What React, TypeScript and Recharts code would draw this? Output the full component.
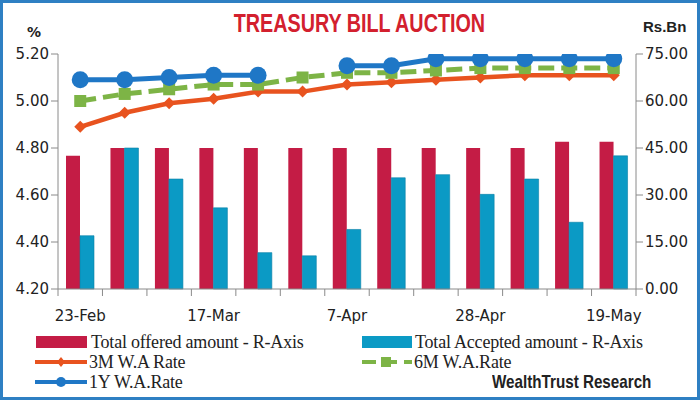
import { ComposedChart, Bar, Line, XAxis, YAxis } from 'recharts';

// auction dates (weekly)
const CATS = ['23-Feb', '2-Mar', '9-Mar', '17-Mar', '24-Mar', '31-Mar', '7-Apr', '14-Apr', '21-Apr', '28-Apr', '5-May', '12-May', '19-May'];
const OFFERED = [42.5, 45, 45, 45, 45, 45, 45, 45, 45, 45, 45, 47, 47];
const ACCEPTED = [17.0, 45.0, 35.1, 25.9, 11.6, 10.6, 19.0, 35.5, 36.5, 30.2, 35.1, 21.3, 42.5];
const RATE_3M = [4.89, 4.95, 4.99, 5.01, 5.04, 5.04, 5.07, 5.08, 5.09, 5.10, 5.11, 5.11, 5.11];
const RATE_6M = [5.0, 5.03, 5.05, 5.07, 5.07, 5.1, 5.12, 5.12, 5.13, 5.14, 5.14, 5.14, 5.14];
const RATE_1Y = [5.09, 5.09, 5.1, 5.11, 5.11, null, 5.15, 5.15, 5.18, 5.18, 5.18, 5.18, 5.18];
const LEFT_TICKS = [4.2, 4.4, 4.6, 4.8, 5.0, 5.2];
const RIGHT_TICKS = [0, 15, 30, 45, 60, 75];
const LABEL_EVERY = 3;

const RED = '#c41c45';
const TEAL = '#0b9ac5';
const ORANGE = '#e8531f';
const GREEN = '#7db446';
const BLUE = '#1f77c6';
const AXIS = '#8a8a8a';
const TICK_FONT = "'DejaVu Sans', Verdana, sans-serif";

const PLOT_LEFT = 58;
const PLOT_RIGHT = 636;
const HALF_BAND = (PLOT_RIGHT - PLOT_LEFT) / CATS.length / 2;

const data = CATS.map((c, i) => ({
  date: c,
  offered: OFFERED[i],
  accepted: ACCEPTED[i],
  r3m: RATE_3M[i],
  r6m: RATE_6M[i],
  r1y: RATE_1Y[i],
}));

const XTick = ({ x, y, payload, index }: any) => (
  <g>
    <line x1={x - HALF_BAND} x2={x - HALF_BAND} y1={y} y2={y + 7} stroke={AXIS} />
    {index === CATS.length - 1 && <line x1={x + HALF_BAND} x2={x + HALF_BAND} y1={y} y2={y + 7} stroke={AXIS} />}
    {index % LABEL_EVERY === 0 && (
      <text x={x} y={y + 32} textAnchor="middle" fontSize={15} fill="#222" fontFamily={TICK_FONT}>
        {payload.value}
      </text>
    )}
  </g>
);

const Diamond = (p: any) => {
  if (p.cy == null) return <g key={p.key} />;
  const s = 6;
  return <path key={p.key} d={`M${p.cx},${p.cy - s}L${p.cx + s},${p.cy}L${p.cx},${p.cy + s}L${p.cx - s},${p.cy}Z`} fill={ORANGE} />;
};

const Square = (p: any) => {
  if (p.cy == null) return <g key={p.key} />;
  return <rect key={p.key} x={p.cx - 6} y={p.cy - 6} width={12} height={12} fill={GREEN} />;
};

const Circle = (p: any) => {
  if (p.cy == null) return <g key={p.key} />;
  return <circle key={p.key} cx={p.cx} cy={p.cy} r={8.5} fill={BLUE} />;
};

const legendText: any = {
  position: 'absolute',
  fontFamily: "'Liberation Serif', 'Times New Roman', serif",
  fontSize: 18,
  color: '#222',
  letterSpacing: -0.2,
  lineHeight: '18px',
  whiteSpace: 'nowrap',
};

export default function App() {
  return (
    <div style={{ position: 'absolute', left: 0, top: 0, width: 700, height: 400, background: '#fff', overflow: 'hidden' }}>
      <div style={{ position: 'absolute', left: 0, top: 0, width: 700, height: 400, boxSizing: 'border-box', border: '3px solid #2f80c3', pointerEvents: 'none', zIndex: 2 }} />
      <div style={{ position: 'absolute', left: 0, width: 718, top: 8, textAlign: 'center' }}>
        <span style={{ display: 'inline-block', transform: 'scaleX(0.76)', fontFamily: "'Liberation Sans', Arial, sans-serif", fontWeight: 700, fontSize: 26, color: '#d3202e' }}>
          TREASURY BILL AUCTION
        </span>
      </div>
      <div style={{ position: 'absolute', left: 27, top: 24, fontFamily: TICK_FONT, fontWeight: 700, fontSize: 14, color: '#222' }}>%</div>
      <div style={{ position: 'absolute', left: 643, top: 18, fontFamily: "'Liberation Sans', Arial, sans-serif", fontWeight: 700, fontSize: 15, color: '#222' }}>Rs.Bn</div>

      <ComposedChart
        width={700}
        height={400}
        data={data}
        margin={{ top: 54, right: 8, left: 8, bottom: 81 }}
        barGap={0}
      >
        <XAxis
          dataKey="date"
          interval={0}
          tickLine={false}
          tickSize={0}
          tickMargin={0}
          height={30}
          stroke={AXIS}
          tick={XTick}
        />
        <YAxis
          yAxisId="left"
          orientation="left"
          width={50}
          domain={[4.2, 5.2]}
          ticks={LEFT_TICKS}
          tickFormatter={(v: number) => v.toFixed(2)}
          stroke={AXIS}
          tickSize={7}
          tickMargin={2}
          tick={{ fontSize: 15, fill: '#222', fontFamily: TICK_FONT }}
          allowDataOverflow
        />
        <YAxis
          yAxisId="right"
          orientation="right"
          width={56}
          domain={[0, 75]}
          ticks={RIGHT_TICKS}
          tickFormatter={(v: number) => v.toFixed(2)}
          stroke={AXIS}
          tickSize={7}
          tickMargin={2}
          tick={{ fontSize: 15, fill: '#222', fontFamily: TICK_FONT }}
        />
        <Bar yAxisId="right" dataKey="offered" fill={RED} barSize={14} isAnimationActive={false} />
        <Bar yAxisId="right" dataKey="accepted" fill={TEAL} stroke="#0a7fa6" strokeWidth={0.6} barSize={14} isAnimationActive={false} />
        <Line yAxisId="left" dataKey="r3m" stroke={ORANGE} strokeWidth={4.5} dot={Diamond} activeDot={false} isAnimationActive={false} />
        <Line yAxisId="left" dataKey="r6m" stroke={GREEN} strokeWidth={5} strokeDasharray="16 7" dot={Square} activeDot={false} isAnimationActive={false} />
        <Line yAxisId="left" dataKey="r1y" stroke={BLUE} strokeWidth={5} dot={Circle} activeDot={false} connectNulls={false} isAnimationActive={false} />
      </ComposedChart>

      {/* legend */}
      <svg style={{ position: 'absolute', left: 0, top: 0 }} width={700} height={400} pointerEvents="none">
        <rect x={36} y={336} width={51} height={12} fill={RED} />
        <rect x={362} y={336} width={50} height={12} fill={TEAL} />
        <line x1={35} x2={87} y1={362} y2={362} stroke={ORANGE} strokeWidth={4} />
        <path d="M61,357L65,362L61,367L57,362Z" fill={ORANGE} />
        <line x1={362} x2={412} y1={362} y2={362} stroke={GREEN} strokeWidth={4} strokeDasharray="14 7" />
        <rect x={381} y={357} width={10} height={10} fill={GREEN} />
        <line x1={35} x2={87} y1={382} y2={382} stroke={BLUE} strokeWidth={4} />
        <circle cx={61} cy={382} r={5} fill={BLUE} />
      </svg>
      <div style={{ ...legendText, left: 91, top: 333 }}>Total offered amount - R-Axis</div>
      <div style={{ ...legendText, left: 415, top: 333 }}>Total Accepted amount - R-Axis</div>
      <div style={{ ...legendText, left: 89, top: 353 }}>3M W.A Rate</div>
      <div style={{ ...legendText, left: 414, top: 353 }}>6M W.A.Rate</div>
      <div style={{ ...legendText, left: 89, top: 373 }}>1Y W.A.Rate</div>
      <div style={{ position: 'absolute', left: 492, top: 371, transform: 'scaleX(0.8)', transformOrigin: 'left center', fontFamily: "'Liberation Sans', Arial, sans-serif", fontWeight: 700, fontSize: 19, color: '#222', whiteSpace: 'nowrap' }}>
        WealthTrust Research
      </div>
    </div>
  );
}
